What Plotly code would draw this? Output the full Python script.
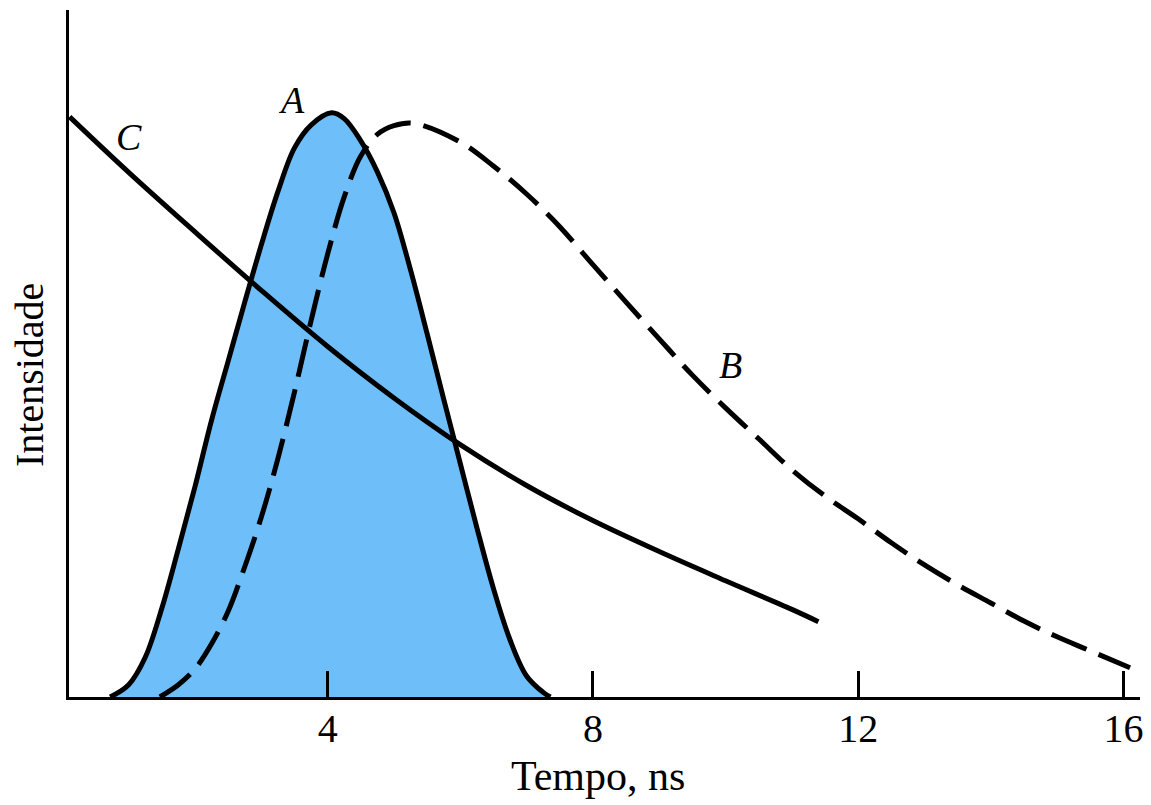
import plotly.graph_objects as go

# ---- data (time in ns, intensity in arbitrary units, A peak = 100) ----
a_time = [0.72, 1.0, 1.25, 1.5, 1.75, 2.0, 2.25, 2.5, 2.75, 3.0, 3.25, 3.5, 3.75, 4.06,
          4.25, 4.5, 4.75, 5.0, 5.25, 5.5, 5.75, 6.0, 6.25, 6.5, 6.75, 7.0, 7.25, 7.36]
a_int = [0, 2.1, 6.8, 15.2, 25.4, 36.0, 47.4, 57.5, 67.6, 77.4, 86.5, 94.0, 97.9, 100,
         99.0, 95.2, 89.9, 82.9, 73.1, 62.2, 51.0, 40.0, 29.0, 18.6, 9.8, 3.6, 0.8, 0]

b_time = [1.47, 1.75, 2.0, 2.25, 2.5, 2.75, 3.0, 3.25, 3.5, 3.75, 4.0, 4.25, 4.5, 4.75,
          5.0, 5.3, 6.0, 6.5, 7.0, 7.5, 8.0, 8.5, 9.0, 9.5, 10.0, 10.5, 11.0, 11.5, 12.0,
          12.5, 13.0, 13.5, 14.0, 14.5, 15.0, 15.5, 16.1]
b_int = [0, 2.1, 4.8, 9.1, 14.7, 22.3, 30.8, 40.8, 52.2, 64.4, 75.8, 85.6, 92.6, 96.3,
         97.8, 98.2, 95.0, 90.9, 86.1, 80.5, 74.0, 67.6, 61.3, 55.1, 49.5, 44.2, 38.9,
         34.4, 30.5, 26.4, 22.6, 19.2, 16.1, 13.0, 10.3, 7.9, 5.0]

c_time = [0.11, 1, 2, 3, 4, 5, 6, 7, 8, 9, 10, 11, 11.4]
c_int = [99.3, 89.8, 79.6, 69.6, 60.0, 51.2, 43.2, 36.2, 30.2, 24.9, 19.9, 15.0, 12.9]

x_ticks = [4, 8, 12, 16]
curve_labels = ["A", "B", "C"]
label_pos_time = [3.45, 10.08, 1.0]
label_pos_int = [102.2, 56.8, 95.8]

SERIF = "Liberation Serif, Times New Roman, serif"
BLUE = "#6EBEFA"

fig = go.Figure()

fig.add_trace(go.Scatter(
    x=a_time, y=a_int, mode="lines", name="A",
    line=dict(color="black", width=5, shape="spline", smoothing=1.0),
    fill="tozeroy", fillcolor=BLUE,
))
fig.add_trace(go.Scatter(
    x=b_time, y=b_int, mode="lines", name="B",
    line=dict(color="black", width=5, shape="spline", smoothing=1.0, dash="38px,13px"),
))
fig.add_trace(go.Scatter(
    x=c_time, y=c_int, mode="lines", name="C",
    line=dict(color="black", width=5, shape="spline", smoothing=1.0),
))

for lab, tx, ty in zip(curve_labels, label_pos_time, label_pos_int):
    fig.add_annotation(x=tx, y=ty, text=f"<i>{lab}</i>", showarrow=False,
                       font=dict(family=SERIF, size=38, color="black"))

fig.add_annotation(xref="paper", yref="paper", x=-0.0373, y=0.4687, text="Intensidade",
                   textangle=-90, showarrow=False, xanchor="center", yanchor="middle",
                   font=dict(family=SERIF, size=40, color="black"))
fig.add_annotation(xref="x", yref="paper", x=8.07, y=-0.1150, text="Tempo, ns",
                   showarrow=False, xanchor="center", yanchor="middle", borderpad=0,
                   font=dict(family=SERIF, size=42, color="black"))

# the page body adds an 8 px offset; size/margins compensate so the plot area sits at
# x 69..1140, y 10..697 in the 1151x805 window
fig.update_layout(
    width=1143, height=797,
    margin=dict(l=61, r=11, t=2, b=108),
    plot_bgcolor="white", paper_bgcolor="white",
    showlegend=False,
    font=dict(family=SERIF, size=40, color="black"),
)
fig.update_xaxes(
    range=[0.10, 16.25], showgrid=False, zeroline=False,
    showline=True, linecolor="black", linewidth=3,
    tickmode="array", tickvals=x_ticks, ticktext=[str(t) for t in x_ticks],
    ticks="inside", ticklen=26, tickwidth=2.5, tickcolor="black",
    tickfont=dict(family=SERIF, size=40, color="black"),
    ticklabelstandoff=-6,
)
fig.update_yaxes(
    range=[0, 117.6], showgrid=False, zeroline=False,
    showline=True, linecolor="black", linewidth=3,
    showticklabels=False, ticks="",
)

fig.write_html("out.html")
